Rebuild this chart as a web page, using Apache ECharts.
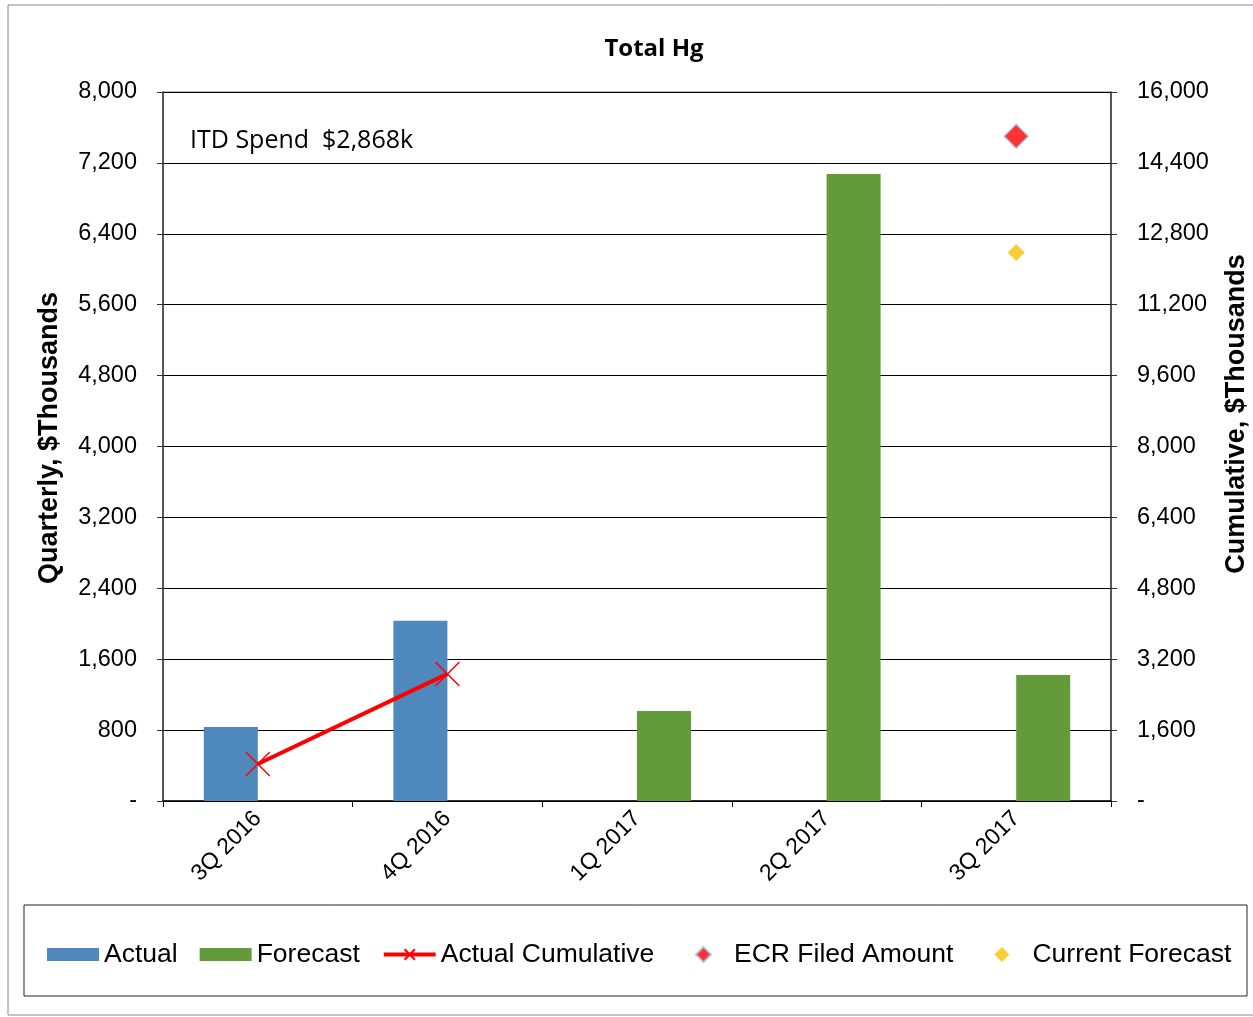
<!DOCTYPE html>
<html>
<head>
<meta charset="utf-8">
<script src="https://cdn.jsdelivr.net/npm/echarts@6/dist/echarts.min.js"></script>
<style>
  html, body { margin: 0; padding: 0; background: #fff; }
  #chart { width: 1253px; height: 1017px; }
</style>
</head>
<body>
<div id="chart"></div>
<script>
// 类目
const quarters = ['3Q 2016', '4Q 2016', '1Q 2017', '2Q 2017', '3Q 2017']

// 季度数据（左轴）
const actual = [835, 2033, null, null, null]
const forecast = [null, null, 1015, 7075, 1422]

// 累计数据（右轴）
const actualCumulative = [835, 2868, null, null, null]
const ecrFiled = [null, null, null, null, 15000]
const currentForecast = [null, null, null, null, 12380]

const chart = echarts.init(document.getElementById('chart'))

const fmt = (v) => v === 0 ? '-' : v.toLocaleString('en-US')
const labelFont = 'Liberation Sans, Arial, sans-serif'
const nameStyle = { fontFamily: labelFont, fontWeight: 'bold', fontSize: 27, fill: '#000', align: 'center', verticalAlign: 'middle' }

const option = {
  backgroundColor: '#fff',
  animation: false,
  graphic: [
    // 外框
    { type: 'rect', shape: { x: 8, y: 5, width: 1260, height: 1010 }, style: { fill: 'none', stroke: '#888', lineWidth: 1 }, z: -1 },
    // 图例框
    { type: 'rect', shape: { x: 24, y: 905, width: 1223, height: 91 }, style: { fill: 'none', stroke: '#222', lineWidth: 1 } },
    // 标题
    {
      type: 'text', x: 654, y: 49,
      style: { text: 'Total Hg', fontFamily: 'Open Sans', fontWeight: 'bold', fontSize: 24, fill: '#000', align: 'center', verticalAlign: 'middle' }
    },
    {
      type: 'text', x: 190, y: 141,
      style: { text: 'ITD Spend  $2,868k', fontFamily: 'Open Sans', fontSize: 25, fill: '#000', verticalAlign: 'middle' }
    },
    // 坐标轴名称
    { type: 'text', x: 50, y: 438, rotation: Math.PI / 2, style: Object.assign({ text: 'Quarterly, $Thousands' }, nameStyle) },
    { type: 'text', x: 1237, y: 414, rotation: Math.PI / 2, style: Object.assign({ text: 'Cumulative, $Thousands' }, nameStyle) }
  ],
  grid: {
    left: 163, right: 142, top: 92, bottom: 216,
    outerBoundsMode: 'none',
    containLabel: false,
    show: true, borderColor: '#888', borderWidth: 1
  },
  legend: [
    {
      data: [
        { name: 'Actual', icon: 'rect' },
        { name: 'Forecast', icon: 'rect' },
        { name: 'Actual Cumulative', lineStyle: { width: 4 } }
      ],
      left: 42, top: 936,
      itemWidth: 52, itemHeight: 13, itemGap: 22,
      textStyle: { fontFamily: labelFont, fontSize: 26.5, color: '#000' }
    },
    {
      data: ['ECR Filed Amount', 'Current Forecast'],
      left: 690, top: 936,
      itemWidth: 15, itemHeight: 15, itemGap: 41,
      textStyle: { fontFamily: labelFont, fontSize: 26.5, color: '#000', padding: [0, 0, 0, 18] }
    }
  ],
  xAxis: {
    type: 'category',
    data: quarters,
    axisLine: { lineStyle: { color: '#000', width: 1.5 } },
    axisTick: { show: true, length: 6, lineStyle: { color: '#000' } },
    axisLabel: { rotate: 45, margin: 14, fontFamily: labelFont, fontSize: 23, color: '#000' }
  },
  yAxis: [
    {
      type: 'value',
      min: 0, max: 8000, interval: 800,
      axisLine: { show: true, lineStyle: { color: '#333', width: 1.5 } },
      axisTick: { show: true, length: 6, lineStyle: { color: '#333' } },
      axisLabel: { formatter: fmt, margin: 26, fontFamily: labelFont, fontSize: 23.5, color: '#000' },
      splitLine: { show: true, lineStyle: { color: '#000', width: 1 } }
    },
    {
      type: 'value',
      min: 0, max: 16000, interval: 1600,
      axisLine: { show: true, lineStyle: { color: '#333', width: 1.5 } },
      axisTick: { show: true, length: 6, lineStyle: { color: '#333' } },
      axisLabel: { formatter: fmt, margin: 26, fontFamily: labelFont, fontSize: 23.5, color: '#000' },
      splitLine: { show: false }
    }
  ],
  series: [
    {
      name: 'Actual',
      type: 'bar',
      data: actual,
      barWidth: 54,
      barGap: '0%',
      itemStyle: { color: '#4f88bd' }
    },
    {
      name: 'Forecast',
      type: 'bar',
      data: forecast,
      barWidth: 54,
      barGap: '0%',
      itemStyle: { color: '#639b3b' }
    },
    {
      name: 'Actual Cumulative',
      type: 'line',
      yAxisIndex: 1,
      data: actualCumulative,
      symbol: 'path://M0,0L10,10M10,0L0,10',
      symbolSize: 24,
      lineStyle: { color: '#ff0000', width: 4 },
      itemStyle: { color: '#ff0000', borderColor: '#ff0000', borderWidth: 1.5 },
      z: 5
    },
    {
      name: 'ECR Filed Amount',
      type: 'scatter',
      yAxisIndex: 1,
      data: ecrFiled,
      symbol: 'diamond',
      symbolSize: [24, 24],
      itemStyle: { color: '#ff0000', borderColor: '#9cc3e6', borderWidth: 1.5 },
      z: 6
    },
    {
      name: 'Current Forecast',
      type: 'scatter',
      yAxisIndex: 1,
      data: currentForecast,
      symbol: 'diamond',
      symbolSize: [17, 17],
      itemStyle: { color: '#ffc000' },
      z: 6
    }
  ]
}

chart.setOption(option)
</script>
</body>
</html>
